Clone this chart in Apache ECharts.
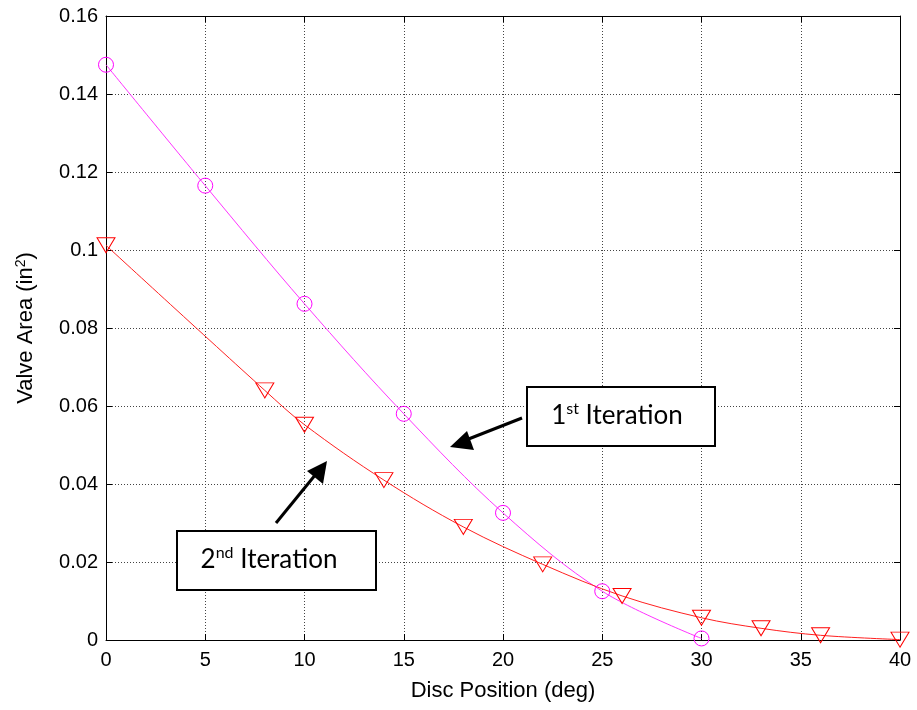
<!DOCTYPE html>
<html><head><meta charset="utf-8">
<script src="https://cdn.jsdelivr.net/npm/echarts@6/dist/echarts.min.js"></script>
<style>html,body{margin:0;padding:0;background:#fff}#c{width:917px;height:710px}</style>
</head><body><div id="c"></div>
<script>
const xTicks = [0,5,10,15,20,25,30,35,40];
const yTicks = [0,0.02,0.04,0.06,0.08,0.1,0.12,0.14,0.16];
const iter1X = [0,5,10,15,20,25,30];
const iter1Y = [0.1475,0.1165,0.0862,0.0580,0.0326,0.0125,0.0004];
const iter2X = [0,8,10,14,18,22,26,30,33,36,40];
const iter2Y = [0.1012,0.0640,0.0552,0.0410,0.0290,0.0194,0.0113,0.0057,0.0030,0.0012,0.0001];

const chart = echarts.init(document.getElementById('c'));
const font = 'Liberation Sans, Arial, sans-serif';
const afont = 'Lato, sans-serif';
const gridLine = {show:true, lineStyle:{color:'#444', type:[1,2], width:1}};
const baseAxis = {
  axisLine:{show:true, onZero:false, lineStyle:{color:'#000', width:1}},
  axisTick:{show:true, inside:true, length:6, lineStyle:{color:'#000'}},
};
chart.setOption({
  animation:false,
  grid:{left:106, right:17, top:16, bottom:70, containLabel:false},
  xAxis:[
    Object.assign({type:'value', min:0, max:40, interval:5, position:'bottom',
      name:'Disc Position (deg)', nameLocation:'middle', nameGap:40,
      nameTextStyle:{fontFamily:font, fontSize:22, color:'#000'},
      axisLabel:{fontFamily:font, fontSize:20, color:'#000', margin:10},
      splitLine:gridLine}, baseAxis),
    Object.assign({type:'value', min:0, max:40, interval:5, position:'top',
      axisLabel:{show:false}, splitLine:{show:false}}, baseAxis)
  ],
  yAxis:[
    Object.assign({type:'value', min:0, max:0.16, interval:0.02, position:'left',
      name:'Valve Area (in{s|2})', nameLocation:'middle', nameGap:68,
      nameTextStyle:{fontFamily:font, fontSize:22, color:'#000',
        rich:{s:{fontFamily:font, fontSize:14, color:'#000', verticalAlign:'top', padding:[0,0,10,0]}}},
      axisLabel:{fontFamily:font, fontSize:20, color:'#000', margin:8},
      splitLine:gridLine}, baseAxis),
    Object.assign({type:'value', min:0, max:0.16, interval:0.02, position:'right',
      axisLabel:{show:false}, splitLine:{show:false}}, baseAxis)
  ],
  series:[
    {type:'line', name:'1st', data:iter1X.map((x,i)=>[x,iter1Y[i]]), smooth:0.35,
      symbol:'circle', symbolSize:15,
      lineStyle:{color:'#ff33ff', width:1},
      itemStyle:{color:'rgba(0,0,0,0)', borderColor:'#ff00ff', borderWidth:1}},
    {type:'line', name:'2nd', data:iter2X.map((x,i)=>[x,iter2Y[i]]), smooth:0.35,
      symbol:'triangle', symbolRotate:180, symbolSize:[18,15],
      lineStyle:{color:'#ff2020', width:1},
      itemStyle:{color:'rgba(0,0,0,0)', borderColor:'#ff0000', borderWidth:1}}
  ],
  graphic:[
    {type:'rect', shape:{x:527, y:387, width:188, height:59}, style:{fill:'#fff', stroke:'#000', lineWidth:2}, z:100},
    {type:'text', x:617, y:416, z:101, style:{text:'1{s|st} Iteration', fontFamily:afont, fontSize:26, fill:'#000', align:'center', verticalAlign:'middle',
      rich:{s:{fontFamily:afont, fontSize:16, fill:'#000', verticalAlign:'top', padding:[0,0,14,0]}}}},
    {type:'rect', shape:{x:177, y:531, width:199, height:59}, style:{fill:'#fff', stroke:'#000', lineWidth:2}, z:100},
    {type:'text', x:269, y:560, z:101, style:{text:'2{s|nd} Iteration', fontFamily:afont, fontSize:26, fill:'#000', align:'center', verticalAlign:'middle',
      rich:{s:{fontFamily:afont, fontSize:16, fill:'#000', verticalAlign:'top', padding:[0,0,14,0]}}}},
    {type:'line', shape:{x1:522, y1:418, x2:466, y2:440}, style:{stroke:'#000', lineWidth:3}, z:100},
    {type:'polygon', shape:{points:[[450,447],[467,431],[474,450]]}, style:{fill:'#000'}, z:100},
    {type:'line', shape:{x1:276, y1:523, x2:316, y2:474}, style:{stroke:'#000', lineWidth:3}, z:100},
    {type:'polygon', shape:{points:[[327,461],[307,471],[323,484]]}, style:{fill:'#000'}, z:100}
  ]
});
</script></body></html>
